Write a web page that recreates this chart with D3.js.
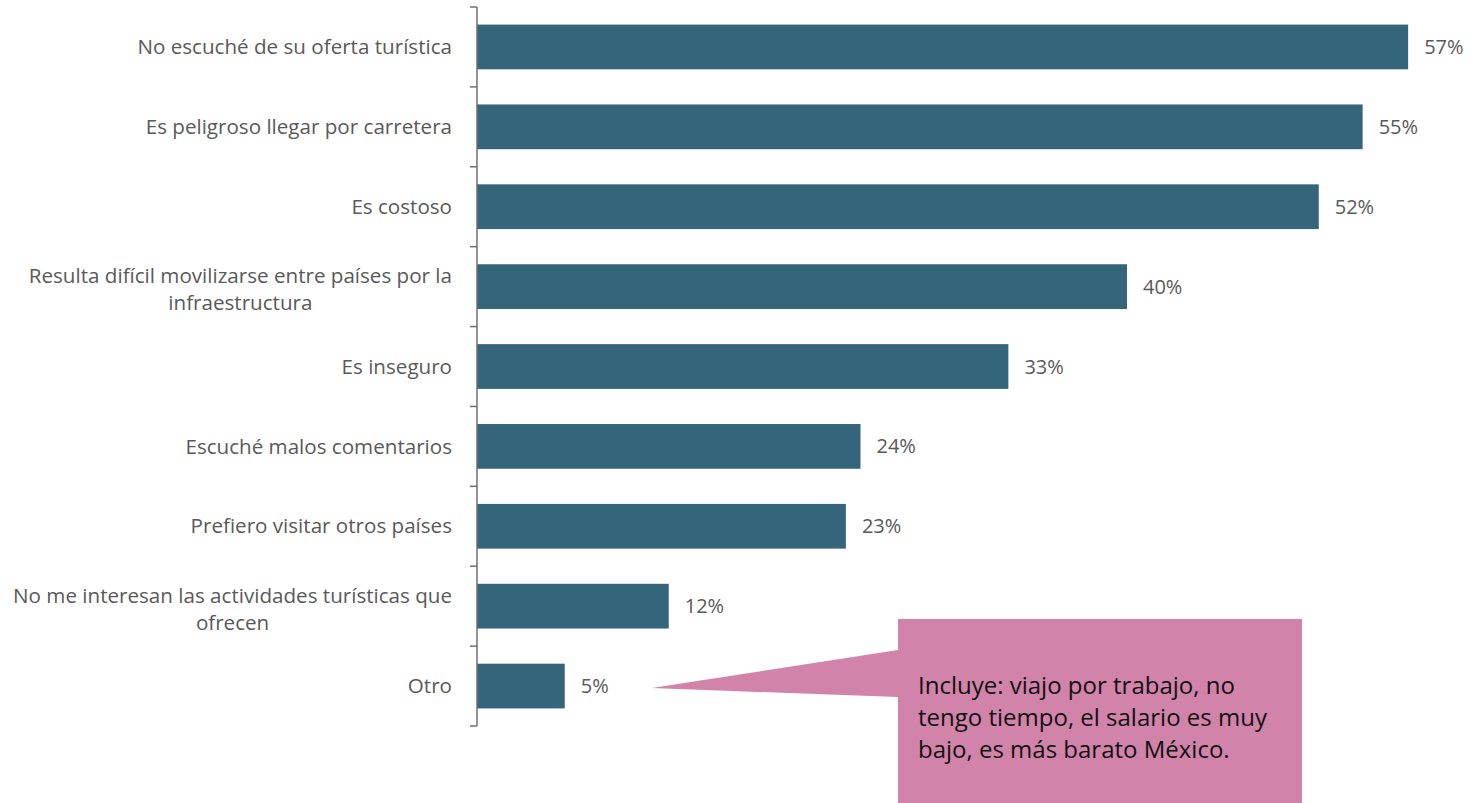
<!DOCTYPE html>
<html>
<head>
<meta charset="utf-8">
<script src="https://cdn.jsdelivr.net/npm/d3@7"></script>
<style>
  body { margin: 0; background: #fff; }
  svg { display: block; }
</style>
</head>
<body>
<script>
// chart values
var categories = [
    "No escuché de su oferta turística",
    "Es peligroso llegar por carretera",
    "Es costoso",
    "Resulta difícil movilizarse entre países por la|infraestructura",
    "Es inseguro",
    "Escuché malos comentarios",
    "Prefiero visitar otros países",
    "No me interesan las actividades turísticas que|ofrecen",
    "Otro"
];
var values = [57.3, 54.5, 51.8, 40.0, 32.7, 23.6, 22.7, 11.8, 5.4];
var valueLabels = ["57%", "55%", "52%", "40%", "33%", "24%", "23%", "12%", "5%"];
var calloutLines = [
    "Incluye: viajo por trabajo, no",
    "tengo tiempo, el salario es muy",
    "bajo, es más barato México."
];

var width = 1471, height = 803;
var margin = {top: 7, left: 477};
var plotH = 719;
var font = "'Open Sans', sans-serif";

var svg = d3.select("body").append("svg")
    .attr("width", width)
    .attr("height", height);

var x = d3.scaleLinear().domain([0, 60]).range([margin.left, margin.left + 975]);
var y = d3.scaleBand().domain(d3.range(categories.length))
    .range([margin.top, margin.top + plotH])
    .paddingInner(0.44).paddingOuter(0.22);

var step = y.step();

// bars
svg.selectAll("rect.bar")
    .data(values)
    .enter().append("rect")
    .attr("class", "bar")
    .attr("x", x(0))
    .attr("y", function(d, i) { return y(i); })
    .attr("width", function(d) { return x(d) - x(0); })
    .attr("height", y.bandwidth())
    .attr("fill", "#35657b");

// value labels
svg.selectAll("text.val")
    .data(values)
    .enter().append("text")
    .attr("class", "val")
    .attr("x", function(d) { return x(d) + 16; })
    .attr("y", function(d, i) { return y(i) + y.bandwidth() / 2; })
    .attr("dy", "0.35em")
    .style("font-family", font)
    .style("font-size", "20px")
    .style("fill", "#595959")
    .text(function(d, i) { return valueLabels[i]; });

// axis: line plus ticks on band boundaries
var axisG = svg.append("g");
axisG.append("line")
    .attr("x1", x(0)).attr("x2", x(0))
    .attr("y1", margin.top).attr("y2", margin.top + plotH)
    .attr("stroke", "#6f6f6f").attr("stroke-width", 1.5);
d3.range(categories.length + 1).forEach(function(i) {
    var yy = margin.top + i * step;
    axisG.append("line")
        .attr("x1", x(0) - 7).attr("x2", x(0))
        .attr("y1", yy).attr("y2", yy)
        .attr("stroke", "#6f6f6f").attr("stroke-width", 1.5);
});

// category labels (multi-line ones centred on the first line)
categories.forEach(function(c, i) {
    var lines = c.split("|");
    var cy = y(i) + y.bandwidth() / 2;
    var t = svg.append("text")
        .style("font-family", font)
        .style("font-size", "20.6px")
        .style("fill", "#595959");
    if (lines.length == 1) {
        t.attr("x", 452).attr("y", cy).attr("dy", "0.35em")
            .attr("text-anchor", "end").text(c);
    } else {
        var tmp = t.append("tspan").text(lines[0]);
        var w = tmp.node().getComputedTextLength();
        tmp.remove();
        t.attr("text-anchor", "middle");
        lines.forEach(function(l, k) {
            t.append("tspan")
                .attr("x", 452 - w / 2)
                .attr("y", cy + 3 + (k - (lines.length - 1) / 2) * 27)
                .attr("dy", "0.35em")
                .text(l);
        });
    }
});

// callout for "Otro"
var last = values.length - 1;
var tipX = x(values[last]) + 87, tipY = y(last) + y.bandwidth() / 2 + 2;
var bx = 898, by = 619, bw = 404, bh = 184;
svg.append("path")
    .attr("d", "M" + tipX + "," + tipY + " L" + bx + "," + 650 +
        " L" + bx + "," + by + " L" + (bx + bw) + "," + by +
        " L" + (bx + bw) + "," + (by + bh) + " L" + bx + "," + (by + bh) +
        " L" + bx + "," + 697 + " Z")
    .attr("fill", "#d183a9");

svg.append("text")
    .style("font-family", font)
    .style("font-size", "24px")
    .style("fill", "#111")
    .selectAll("tspan")
    .data(calloutLines)
    .enter().append("tspan")
    .attr("x", bx + 20)
    .attr("y", function(d, i) { return 694 + i * 32; })
    .text(function(d) { return d; });
</script>
</body>
</html>
